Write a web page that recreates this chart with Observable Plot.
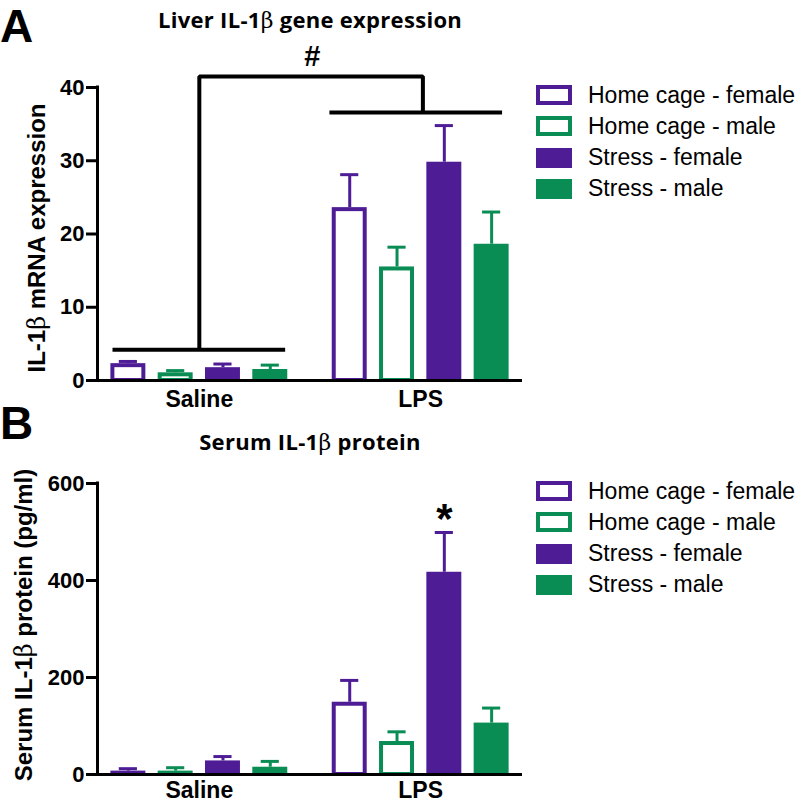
<!DOCTYPE html>
<html><head><meta charset="utf-8">
<script src="https://cdn.jsdelivr.net/npm/d3@7"></script>
<script src="https://cdn.jsdelivr.net/npm/@observablehq/plot@0.6"></script>
<style>
body{margin:0;background:#fff;}
#wrap{position:relative;width:800px;height:803px;overflow:hidden;background:#fff;color:#000;}
.panel{position:absolute;left:0;width:800px;}
.letter{position:absolute;left:0px;font:bold 46px "Liberation Sans",Arial,sans-serif;line-height:1;}
.title{position:absolute;left:310px;transform:translateX(-50%);font:bold 22px "Open Sans",sans-serif;letter-spacing:0.3px;line-height:1;white-space:nowrap;}
.title .g{font-weight:normal;font-family:"DejaVu Serif",serif;}
.legend{position:absolute;left:536px;}
.item{position:absolute;left:0;height:20px;display:flex;align-items:center;white-space:nowrap;}
.sw{width:36px;height:20px;box-sizing:border-box;margin-right:16px;flex:none;}
.lt{font:23px "Liberation Sans",Arial,sans-serif;}
</style></head>
<body>
<div id="wrap"></div>
<script>
// ---- data ----
const groups = ["Saline", "LPS"];
const series = ["Home cage - female", "Home cage - male", "Stress - female", "Stress - male"];
const seriesColors = ["#4e1d96", "#0a8d55", "#4e1d96", "#0a8d55"];
const seriesHollow = [true, true, false, false];

// Panel A: liver IL-1β mRNA expression (mean and SEM), rows = groups, cols = series
const liverMean = [[2.3, 1.05, 1.75, 1.5], [23.6, 15.5, 29.8, 18.6]];
const liverErr  = [[0.3, 0.3, 0.5, 0.6], [4.5, 2.7, 5.0, 4.4]];
const liverTicks = [0, 10, 20, 30, 40];

// Panel B: serum IL-1β protein (pg/ml)
const serumMean = [[7, 7, 28, 15], [149, 68, 417, 106]];
const serumErr  = [[5, 7, 9, 12], [45, 20, 82, 31]];
const serumTicks = [0, 200, 400, 600];

// annotations (data units)
const liverBrackets = [{x1: -0.39, x2: 0.39, y: 4.2}, {x1: 0.59, x2: 1.37, y: 36.6}];
const liverLink = [{x: 0, y: 4.2}, {x: 0, y: 41.5}, {x: 1.01, y: 41.5}, {x: 1.01, y: 36.6}];
const liverSig = [{x: 0.51, y: 44.2, label: "#"}];
const serumSig = [{group: "LPS", series: "Stress - female", y: 526, label: "*"}];

// ---- layout ----
const xDomain = [-0.46, 1.46];
const barStep = 0.2137, barWidth = 0.158, capHalf = 0.041;
const FONT = "Liberation Sans, Arial, sans-serif";

function rowsFor(means, errs) {
  const rows = [];
  groups.forEach((g, gi) => series.forEach((s, si) => {
    const cx = gi + (si - 1.5) * barStep;
    rows.push({group: g, series: s, cx, x1: cx - barWidth / 2, x2: cx + barWidth / 2,
      mean: means[gi][si], top: means[gi][si] + errs[gi][si], hollow: seriesHollow[si]});
  }));
  return rows;
}

function makePanel({means, errs, ticks, yLabel, height, marginTop, marginBottom, labelDx, labelDy, xPad, extra}) {
  const rows = rowsFor(means, errs);
  const yMax = ticks[ticks.length - 1];
  const svg = Plot.plot({
    width: 800, height, marginLeft: 97, marginRight: 278, marginTop, marginBottom,
    style: {fontFamily: FONT, color: "black", background: "white", overflow: "visible"},
    x: {type: "linear", domain: xDomain},
    y: {domain: [0, yMax]},
    color: {domain: series, range: seriesColors},
    marks: [
      Plot.rectY(rows.filter(d => !d.hollow), {x1: "x1", x2: "x2", y1: 0, y2: "mean", fill: "series"}),
      Plot.rectY(rows.filter(d => d.hollow), {x1: "x1", x2: "x2", y1: 0, y2: "mean", fill: "white", stroke: "series", strokeWidth: 4, insetLeft: 2, insetRight: 2, insetTop: 2}),
      Plot.ruleX(rows, {x: "cx", y1: "mean", y2: "top", stroke: "series", strokeWidth: 3}),
      Plot.ruleY(rows, {x1: d => d.cx - capHalf, x2: d => d.cx + capHalf, y: "top", stroke: "series", strokeWidth: 3}),
      Plot.ruleX([xDomain[0]], {y1: 0, y2: yMax, strokeWidth: 3, strokeLinecap: "square"}),
      Plot.ruleY([0], {strokeWidth: 3}),
      Plot.axisY({ticks, tickSize: 11, tickPadding: 2, fontSize: 22, fontWeight: "bold", strokeWidth: 3, label: null}),
      Plot.axisX({ticks: [0, 1], tickFormat: i => groups[i], tickSize: 0, tickPadding: xPad, fontSize: 23, fontWeight: "bold", label: null}),
      Plot.text([yLabel], {text: d => d, frameAnchor: "left", textAnchor: "middle", rotate: -90, dx: labelDx, dy: labelDy, fontSize: 24, fontWeight: "bold"}),
      ...extra(rows)
    ]
  });
  // render β in a plain (non-bold) face, as in the reference
  svg.querySelectorAll("text").forEach(t => {
    if (t.textContent.includes("β") && t.children.length === 0) {
      const parts = t.textContent.split("β");
      t.textContent = "";
      parts.forEach((p, i) => {
        if (i > 0) {
          const b = document.createElementNS("http://www.w3.org/2000/svg", "tspan");
          b.setAttribute("font-weight", "normal");
          b.setAttribute("font-family", "DejaVu Serif, serif");
          b.textContent = "β";
          t.appendChild(b);
        }
        t.appendChild(document.createTextNode(p));
      });
    }
  });
  return svg;
}

const wrap = document.getElementById("wrap");

function addPanel(top, svg, letter, letterTop, title, titleTop, legendTop) {
  const p = document.createElement("div");
  p.className = "panel"; p.style.top = top + "px";
  p.appendChild(svg);
  wrap.appendChild(p);
  const L = document.createElement("div");
  L.className = "letter"; L.style.top = letterTop + "px"; L.textContent = letter;
  wrap.appendChild(L);
  const T = document.createElement("div");
  T.className = "title"; T.style.top = titleTop + "px";
  T.innerHTML = title.replace("β", '<span class="g">β</span>');
  wrap.appendChild(T);
  const lg = document.createElement("div");
  lg.className = "legend"; lg.style.top = legendTop + "px";
  series.forEach((s, i) => {
    const it = document.createElement("div");
    it.className = "item"; it.style.top = (i * 31.3) + "px";
    const sw = document.createElement("div");
    sw.className = "sw";
    if (seriesHollow[i]) { sw.style.border = "4px solid " + seriesColors[i]; sw.style.background = "#fff"; }
    else sw.style.background = seriesColors[i];
    const tx = document.createElement("span");
    tx.className = "lt"; tx.textContent = s;
    it.appendChild(sw); it.appendChild(tx);
    lg.appendChild(it);
  });
  wrap.appendChild(lg);
}

const svgA = makePanel({
  means: liverMean, errs: liverErr, ticks: liverTicks, yLabel: "IL-1β mRNA expression",
  height: 412, marginTop: 87, marginBottom: 32, labelDx: -60, labelDy: 4, xPad: 10,
  extra: () => [
    Plot.ruleY(liverBrackets, {x1: "x1", x2: "x2", y: "y", strokeWidth: 4}),
    Plot.line(liverLink, {x: "x", y: "y", strokeWidth: 4, strokeLinejoin: "miter", strokeLinecap: "butt"}),
    Plot.text(liverSig, {x: "x", y: "y", text: "label", fontSize: 29, fontWeight: "bold"})
  ]
});
addPanel(0, svgA, "A", 3, "Liver IL-1β gene expression", 8, 85);

const svgB = makePanel({
  means: serumMean, errs: serumErr, ticks: serumTicks, yLabel: "Serum IL-1β protein (pg/ml)",
  height: 391, marginTop: 71, marginBottom: 29, labelDx: -73, labelDy: -4, xPad: 7,
  extra: rows => [
    Plot.text(serumSig.map(s => ({...s, x: rows.find(r => r.group === s.group && r.series === s.series).cx})),
      {x: "x", y: "y", text: "label", fontSize: 42, fontWeight: "bold"})
  ]
});
addPanel(412, svgB, "B", 400, "Serum IL-1β protein", 430, 481);
</script>
</body></html>
